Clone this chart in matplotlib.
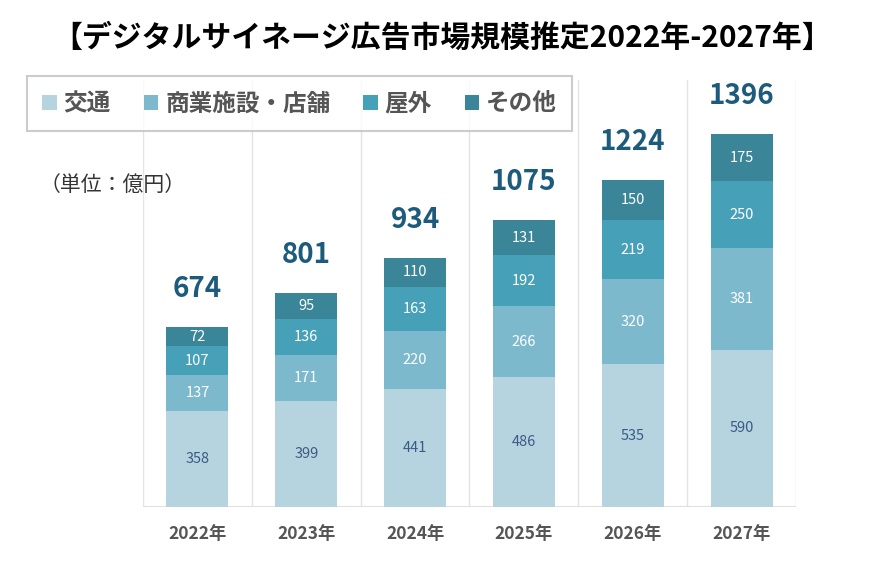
import matplotlib
matplotlib.use("Agg")
import matplotlib.pyplot as plt
import numpy as np

plt.rcParams['font.family'] = ['Noto Sans CJK JP', 'DejaVu Sans']

years = ["2022年", "2023年", "2024年", "2025年", "2026年", "2027年"]
series_names = ["交通", "商業施設・店舗", "屋外", "その他"]
transport = [358, 399, 441, 486, 535, 590]
commercial = [137, 171, 220, 266, 320, 381]
outdoor = [107, 136, 163, 192, 219, 250]
other = [72, 95, 110, 131, 150, 175]
totals = [674, 801, 934, 1075, 1224, 1396]

colors = ["#b5d4df", "#7cb9cd", "#46a0b7", "#3a8598"]
label_colors = ["#3b5a86", "white", "white", "white"]

fig = plt.figure(figsize=(8.85, 5.76), dpi=100)
ax = fig.add_axes([143/885, 1-507/576, (796-143)/885, (507-80)/576])

x = np.arange(len(years))
bottom = np.zeros(len(years))
handles = []
for vals, c, lc, name in zip([transport, commercial, outdoor, other], colors, label_colors, series_names):
    vals = np.array(vals)
    b = ax.bar(x, vals, bottom=bottom, width=0.57, color=c, label=name, zorder=2)
    handles.append(b)
    for xi, v, bt in zip(x, vals, bottom):
        ax.text(xi, bt + v/2, str(v), ha='center', va='center', color=lc, fontsize=10.5, zorder=3)
    bottom += vals

for xi, t in zip(x, totals):
    ax.text(xi, t + 90, str(t), ha='center', va='bottom', color="#1d5b7c", fontsize=20, fontweight='bold', zorder=3)

ax.set_xlim(-0.5, len(years) - 0.5)
ax.set_ylim(0, 1600)
for b in np.arange(-0.5, len(years), 1.0):
    ax.axvline(b, color="#e3e3e3", lw=1, zorder=1)
for s in ax.spines.values():
    s.set_visible(False)
ax.axhline(0, color="#e0e0e0", lw=1.5, zorder=1)
ax.set_yticks([])
ax.set_xticks(x)
ax.set_xticklabels(years, fontsize=12.5, fontweight='bold', color="#555555")
ax.tick_params(axis='x', length=0, pad=13)

fig.text(0.5, 1-38/576, "【デジタルサイネージ広告市場規模推定2022年-2027年】", ha='center', va='center',
         fontsize=21.5, fontweight='bold', color='black')
fig.text(40/885, 1-185/576, "（単位：億円）", ha='left', va='center', fontsize=15, color="#333333")

leg = fig.legend(handles=handles, labels=series_names, loc='upper left',
                 bbox_to_anchor=(27/885, 1-76/576), ncol=4, frameon=True, fancybox=False,
                 handlelength=0.6, handleheight=0.6, handletextpad=0.3, columnspacing=1.4,
                 prop={'size': 17, 'weight': 'bold'}, borderpad=0.65, borderaxespad=0)
leg.get_frame().set_edgecolor("#c0c0c0")
leg.get_frame().set_linewidth(1.5)
for t in leg.get_texts():
    t.set_color("#555555")

fig.savefig("out.png", dpi=100)
